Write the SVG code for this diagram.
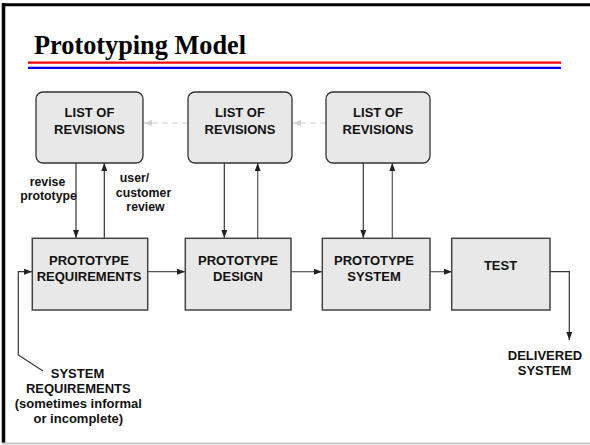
<svg xmlns="http://www.w3.org/2000/svg" width="590" height="445" viewBox="0 0 590 445">
<style>
.t{font-family:"Liberation Sans",Arial,sans-serif;font-weight:bold;font-size:13px;fill:#111;text-anchor:middle}
.s{font-family:"Liberation Sans",Arial,sans-serif;font-weight:bold;font-size:12.3px;fill:#111;text-anchor:middle}
.up{fill:#e8e8e8;stroke:#333;stroke-width:1.3}
.low{fill:#e8e8e8;stroke:#444;stroke-width:1.5}
.c{fill:none;stroke:#333;stroke-width:1.2}
.g{fill:none;stroke:#555;stroke-width:1.2}
.d{fill:none;stroke:#cfcfcf;stroke-width:1.2;stroke-dasharray:6 4}
</style>
<defs>
<marker id="a" viewBox="0 0 8 6" refX="8" refY="3" markerWidth="8" markerHeight="6" markerUnits="userSpaceOnUse" orient="auto">
<path d="M0,0 L8,3 L0,6 z" fill="#222"/>
</marker>
<marker id="ad" viewBox="0 0 8 6" refX="8" refY="3" markerWidth="8" markerHeight="6" markerUnits="userSpaceOnUse" orient="auto">
<path d="M0,0 L8,3 L0,6 z" fill="#cfcfcf"/>
</marker>
</defs>
<rect x="0" y="0" width="590" height="445" fill="#fff"/>
<g id="frame">
<line x1="3.5" y1="3" x2="3.5" y2="443" stroke="#000" stroke-width="3.5"/>
<line x1="2" y1="4.8" x2="590" y2="4.8" stroke="#000" stroke-width="3"/>
<line x1="2" y1="443.5" x2="590" y2="443.5" stroke="#c8c8c8" stroke-width="2"/>
</g>
<g id="title">
<text x="34" y="53.5" font-family="'Liberation Serif','Times New Roman',serif" font-weight="bold" font-size="27" fill="#000" textLength="212" lengthAdjust="spacingAndGlyphs">Prototyping Model</text>
<line x1="28" y1="62.7" x2="561" y2="62.7" stroke="#f00" stroke-width="2.2"/>
<line x1="28" y1="67.8" x2="561" y2="67.8" stroke="#00f" stroke-width="2.2"/>
</g>
<g id="connectors">
<line class="d" x1="188" y1="123" x2="144" y2="123" marker-end="url(#ad)"/>
<line class="d" x1="326" y1="123" x2="293" y2="123" marker-end="url(#ad)"/>
<line class="c" x1="76" y1="163" x2="76" y2="238" marker-end="url(#a)"/>
<line class="c" x1="104.3" y1="238" x2="104.3" y2="163" marker-end="url(#a)"/>
<line class="c" x1="224.3" y1="163" x2="224.3" y2="238" marker-end="url(#a)"/>
<line class="g" x1="257.7" y1="238" x2="257.7" y2="163" marker-end="url(#a)"/>
<line class="c" x1="363.3" y1="163" x2="363.3" y2="238" marker-end="url(#a)"/>
<line class="g" x1="392.3" y1="238" x2="392.3" y2="163" marker-end="url(#a)"/>
<line class="g" x1="148" y1="271.7" x2="185" y2="271.7" marker-end="url(#a)"/>
<line class="g" x1="291" y1="271.7" x2="322" y2="271.7" marker-end="url(#a)"/>
<line class="g" x1="430" y1="271.7" x2="452" y2="271.7" marker-end="url(#a)"/>
<polyline class="c" points="43,371 18.3,355 18.3,271.7 32,271.7" marker-end="url(#a)"/>
<polyline class="c" points="550,271.7 569.3,271.7 569.3,340" marker-end="url(#a)"/>
</g>
<g id="rev1">
<rect class="up" x="36" y="92" width="107" height="71" rx="7"/>
<text class="t" x="89.5" y="117">LIST OF</text>
<text class="t" x="89.5" y="133.5">REVISIONS</text>
</g>
<g id="rev2">
<rect class="up" x="188" y="92" width="104" height="71" rx="7"/>
<text class="t" x="240" y="117">LIST OF</text>
<text class="t" x="240" y="133.5">REVISIONS</text>
</g>
<g id="rev3">
<rect class="up" x="326" y="92" width="104" height="71" rx="7"/>
<text class="t" x="378" y="117">LIST OF</text>
<text class="t" x="378" y="133.5">REVISIONS</text>
</g>
<g id="req">
<rect class="low" x="32.3" y="238.3" width="115.4" height="71.7"/>
<text class="t" x="89" y="265">PROTOTYPE</text>
<text class="t" x="89" y="281">REQUIREMENTS</text>
</g>
<g id="design">
<rect class="low" x="185.3" y="238.3" width="105.7" height="71.7"/>
<text class="t" x="238" y="265">PROTOTYPE</text>
<text class="t" x="238" y="281">DESIGN</text>
</g>
<g id="system">
<rect class="low" x="322.3" y="238.3" width="107.7" height="71.7"/>
<text class="t" x="374" y="265">PROTOTYPE</text>
<text class="t" x="374" y="281">SYSTEM</text>
</g>
<g id="test">
<rect class="low" x="451.7" y="238.3" width="98.3" height="71.7"/>
<text class="t" x="500.5" y="270">TEST</text>
</g>
<g id="labels">
<text class="s" x="47.5" y="186">revise</text>
<text class="s" x="48.5" y="200">prototype</text>
<text class="s" x="134.5" y="182">user/</text>
<text class="s" x="143.5" y="196.5">customer</text>
<text class="s" x="145.5" y="211">review</text>
</g>
<g id="sysreq">
<text class="t" x="77.5" y="378.3">SYSTEM</text>
<text class="t" x="78.3" y="393.3">REQUIREMENTS</text>
<text class="t" x="78.3" y="408">(sometimes informal</text>
<text class="t" x="78.3" y="423">or incomplete)</text>
</g>
<g id="delivered">
<text class="t" x="545" y="360">DELIVERED</text>
<text class="t" x="544.5" y="375">SYSTEM</text>
</g>
</svg>
